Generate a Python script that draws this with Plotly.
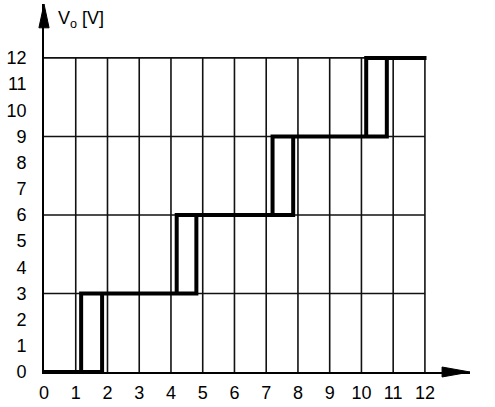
import plotly.graph_objects as go

# ---- data ----
x_ticks = list(range(0, 13))
y_ticks = list(range(0, 13))
y_grid = [3, 6, 9, 12]
x_grid = list(range(1, 13))

vi_rising = [0, 1.83, 1.83, 4.8, 4.8, 7.85, 7.85, 10.8, 10.8, 12.05]
vo_rising = [0, 0, 3, 3, 6, 6, 9, 9, 12, 12]
vi_falling = [12.05, 10.15, 10.15, 7.2, 7.2, 4.18, 4.18, 1.17, 1.17, 0]
vo_falling = [12, 12, 9, 9, 6, 6, 3, 3, 0, 0]

X_MAX = 13.42
Y_MAX = 14.06


def px(v):
    return v / X_MAX


def py(v):
    return v / Y_MAX


fig = go.Figure()

# grid lines
gx, gy = [], []
for xv in x_grid:
    gx += [xv, xv, None]
    gy += [0, 12, None]
for yv in y_grid:
    gx += [0, 12, None]
    gy += [yv, yv, None]
fig.add_trace(go.Scatter(x=gx, y=gy, mode="lines",
                         line=dict(color="#111111", width=1.6),
                         hoverinfo="skip", showlegend=False))

# transfer characteristic
fig.add_trace(go.Scatter(x=vi_rising + vi_falling, y=vo_rising + vo_falling,
                         mode="lines", line=dict(color="black", width=4),
                         showlegend=False))

# arrowheads (paper coords so they are not clipped)
fig.add_shape(type="path",
              path=f"M {px(-0.16)} {py(13.15)} L {px(0)} {py(Y_MAX)} L {px(0.16)} {py(13.15)} Z",
              xref="paper", yref="paper", fillcolor="black", line=dict(color="black", width=1))
fig.add_shape(type="path",
              path=f"M {px(12.54)} {py(-0.19)} L {px(X_MAX)} {py(0)} L {px(12.54)} {py(0.19)} Z",
              xref="paper", yref="paper", fillcolor="black", line=dict(color="black", width=1))

font = dict(family="Liberation Sans", size=18, color="black")

fig.add_annotation(x=0.38, y=Y_MAX - 0.6, xref="x", yref="y",
                   text="V<sub>o</sub> [V]", showarrow=False,
                   xanchor="left", yanchor="middle", font=font)
fig.add_annotation(x=12.9, y=-0.5, xref="x", yref="y",
                   text="V<sub>i</sub> [V]", showarrow=False,
                   xanchor="left", yanchor="middle", font=font)

fig.update_xaxes(range=[0, X_MAX], tickvals=x_ticks, ticktext=[str(v) for v in x_ticks],
                 showgrid=False, zeroline=False, showline=True, linecolor="black",
                 linewidth=1.6, ticks="", tickfont=font, ticklabelstandoff=4,
                 automargin=False)
fig.update_yaxes(range=[0, Y_MAX], tickvals=y_ticks, ticktext=[str(v) for v in y_ticks],
                 showgrid=False, zeroline=False, showline=True, linecolor="black",
                 linewidth=1.6, ticks="", tickfont=font, ticklabelstandoff=12,
                 automargin=False)

fig.update_layout(width=495, height=407,
                  margin=dict(l=44, r=25, t=4, b=35),
                  plot_bgcolor="white", paper_bgcolor="white",
                  showlegend=False)

fig.write_html("out.html", config={"displayModeBar": False},
               post_script="document.body.style.margin='0';")
